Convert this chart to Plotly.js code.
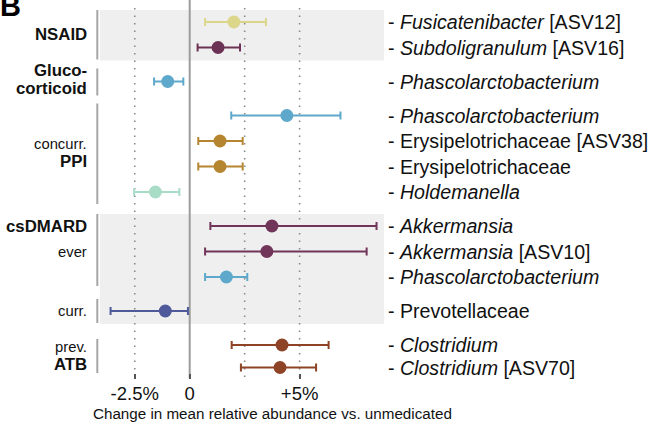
<!DOCTYPE html>
<html><head><meta charset="utf-8">
<script src="https://cdn.plot.ly/plotly-3.0.1.min.js"></script>
<style>html,body{margin:0;padding:0;background:#fff}#chart{width:659px;height:424px}</style>
</head><body><div id="chart"></div>
<script>
// ---- data ----
const taxa = [
  '<i>Fusicatenibacter</i> [ASV12]',
  '<i>Subdoligranulum</i> [ASV16]',
  '<i>Phascolarctobacterium</i>',
  '<i>Phascolarctobacterium</i>',
  'Erysipelotrichaceae [ASV38]',
  'Erysipelotrichaceae',
  '<i>Holdemanella</i>',
  '<i>Akkermansia</i>',
  '<i>Akkermansia</i> [ASV10]',
  '<i>Phascolarctobacterium</i>',
  'Prevotellaceae',
  '<i>Clostridium</i>',
  '<i>Clostridium</i> [ASV70]'
];
const estimate = [2.01, 1.29, -1.00, 4.42, 1.38, 1.38, -1.56, 3.74, 3.51, 1.67, -1.11, 4.20, 4.11];
const lower    = [0.70, 0.36, -1.62, 1.89, 0.39, 0.39, -2.53, 0.94, 0.70, 0.70, -3.60, 1.91, 2.33];
const upper    = [3.47, 2.29, -0.29, 6.86, 2.41, 2.41, -0.47, 8.50, 8.05, 2.62, -0.08, 6.32, 5.75];
const genusKey = ['Fusicatenibacter','Subdoligranulum','Phascolarctobacterium','Phascolarctobacterium',
  'Erysipelotrichaceae','Erysipelotrichaceae','Holdemanella','Akkermansia','Akkermansia',
  'Phascolarctobacterium','Prevotellaceae','Clostridium','Clostridium'];
// group (bracket) membership of each row
const rowGroup = [0,0,1,2,2,2,2,3,3,3,4,5,5];
const tickVals = [-2.5, 0, 5];
const tickText = ['-2.5%', '0', '+5%'];
const dottedRefs = [-2.5, 2.5, 5];
const xTitle = 'Change in mean relative abundance vs. unmedicated';

// ---- styles ----
const colorMap = {
  Fusicatenibacter:'#dcd68b', Subdoligranulum:'#6b3255', Phascolarctobacterium:'#5ea8cb',
  Erysipelotrichaceae:'#b5862f', Holdemanella:'#a8dcc7', Akkermansia:'#703559',
  Prevotellaceae:'#4f5a9a', Clostridium:'#8e4226'
};
const FONT = 'Liberation Sans, Arial, Helvetica, sans-serif';
const W = 659, H = 424;
const L = 100, R = 275, T = 0, B = 51;
const plotW = W - L - R, plotH = H - T - B;

// row positions (layout units = pixels from top)
const rowStep = 25.5, groupGap = 34, firstRow = 22;
const ypos = [];
for (let i = 0; i < taxa.length; i++) {
  if (i === 0) ypos.push(firstRow);
  else if (rowGroup[i] !== rowGroup[i-1]) ypos.push(ypos[i-1] + groupGap);
  else ypos.push(ypos[i-1] + (rowGroup[i] === 5 ? 22.5 : rowStep));
}
const pxX = px => (px - L) / plotW;        // pixel -> paper x
const pyY = v => 1 - v / plotH;            // layout y -> paper y

const traces = taxa.map((t, i) => ({
  type: 'scatter', mode: 'markers',
  x: [estimate[i]], y: [ypos[i]],
  marker: {size: 13, color: colorMap[genusKey[i]]},
  error_x: {type: 'data', symmetric: false,
    array: [upper[i] - estimate[i]], arrayminus: [estimate[i] - lower[i]],
    color: colorMap[genusKey[i]], thickness: 2, width: 4},
  hoverinfo: 'skip', showlegend: false, cliponaxis: false
}));

const shapes = [];
// shaded bands: NSAID (group 0) and csDMARD (groups 3-4)
const bandGroups = [[0],[3,4]];
bandGroups.forEach(gs => {
  const rows = ypos.filter((v, i) => gs.includes(rowGroup[i]));
  shapes.push({type:'rect', layer:'below', xref:'paper', yref:'paper',
    x0:0, x1:1, y0:pyY(Math.min(...rows) - 12), y1:pyY(Math.max(...rows) + 13),
    fillcolor:'#efefef', line:{width:0}});
});
// dotted reference lines
dottedRefs.forEach(v => shapes.push({type:'line', layer:'below', xref:'x', yref:'paper',
  x0:v, x1:v, y0:pyY(377), y1:pyY(3), line:{color:'#8a8a8a', width:1.6, dash:'1.6px,5.9px'}}));
// zero line
shapes.push({type:'line', layer:'below', xref:'x', yref:'paper', x0:0, x1:0,
  y0:pyY(378), y1:1, line:{color:'#9c9c9c', width:2}});
// group brackets
const nG = Math.max(...rowGroup) + 1;
for (let g = 0; g < nG; g++) {
  const rows = ypos.filter((v, i) => rowGroup[i] === g);
  let top = Math.min(...rows) - 12, bot = Math.max(...rows) + 12;
  if (g === 1) { top -= 1; bot += 2; }
  if (g === 3) { bot -= 3; }
  if (g === 5) { top += 6; bot = Math.min(bot, 373); }
  shapes.push({type:'line', xref:'paper', yref:'paper', x0:pxX(97.3), x1:pxX(97.3),
    y0:pyY(bot), y1:pyY(top), line:{color:'#a6a6a6', width:2}});
}

const annotations = [];
// right-hand taxon labels
taxa.forEach((t, i) => annotations.push({xref:'paper', yref:'y', x:pxX(386), y:ypos[i],
  xanchor:'left', yanchor:'middle', showarrow:false, text:'- ' + t,
  font:{family:FONT, size:19.6, color:'#111'}}));
// left group labels
const leftLabels = [
  {text:'NSAID', y:(ypos[0]+ypos[1])/2, bold:true},
  {text:'Gluco-', y:ypos[2]-11, bold:true},
  {text:'corticoid', y:ypos[2]+7, bold:true},
  {text:'concurr.', y:(ypos[3]+ypos[6])/2-10, bold:false},
  {text:'PPI', y:(ypos[3]+ypos[6])/2+8, bold:true},
  {text:'csDMARD', y:ypos[7], bold:true},
  {text:'ever', y:ypos[8], bold:false},
  {text:'curr.', y:ypos[10], bold:false},
  {text:'prev.', y:ypos[11]+2, bold:false},
  {text:'ATB', y:ypos[12]-3, bold:true}
];
leftLabels.forEach(o => annotations.push({xref:'paper', yref:'y', x:pxX(89), y:o.y,
  xanchor:'right', yanchor:'middle', showarrow:false,
  text: o.bold ? '<b>' + o.text + '</b>' : o.text,
  font:{family:FONT, size: o.bold ? 16.8 : 14.8, color:'#111'}}));
// x-axis title
annotations.push({xref:'paper', yref:'paper', x:pxX(272), y:pyY(413), xanchor:'center', yanchor:'middle',
  showarrow:false, text:xTitle, font:{family:FONT, size:15.2, color:'#111'}});
// panel letter
annotations.push({xref:'paper', yref:'paper', x:pxX(-2), y:pyY(6), xanchor:'left', yanchor:'middle',
  showarrow:false, text:'<b>B</b>', font:{family:FONT, size:29, color:'#000'}});

const layout = {
  width: W, height: H,
  margin: {l:L, r:R, t:T, b:B, pad:0},
  paper_bgcolor:'#fff', plot_bgcolor:'rgba(0,0,0,0)',
  xaxis: {range:[(L - 189.7)/21.98, (L + plotW - 189.7)/21.98], tickvals:tickVals, ticktext:tickText,
    ticks:'outside', ticklen:5, tickwidth:2, tickcolor:'#555', showgrid:false, zeroline:false,
    showline:false, ticklabelstandoff:-1, tickfont:{family:FONT, size:18.5, color:'#111'}, fixedrange:true},
  yaxis: {range:[plotH, 0], showticklabels:false, ticks:'', showgrid:false, zeroline:false,
    showline:false, fixedrange:true},
  shapes, annotations, showlegend:false
};
Plotly.newPlot('chart', traces, layout, {displayModeBar:false, staticPlot:true});
</script></body></html>
